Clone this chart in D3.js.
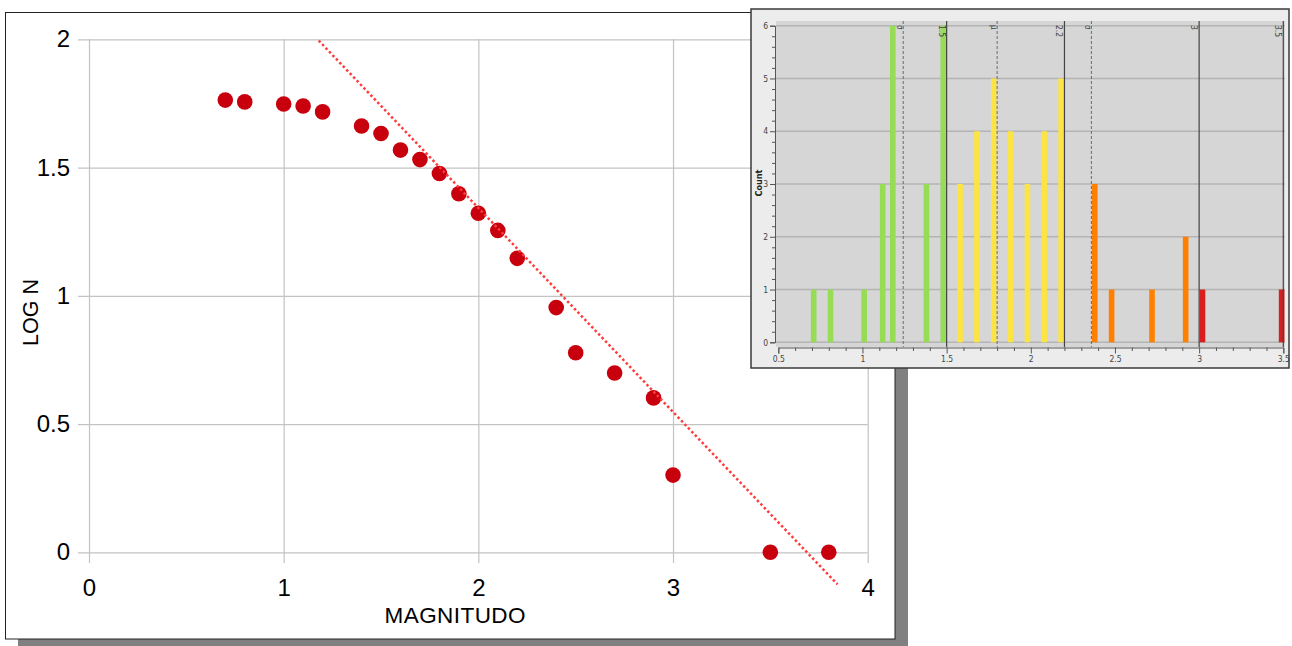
<!DOCTYPE html>
<html lang="it">
<head>
<meta charset="UTF-8">
<title>Gutenberg-Richter</title>
<script src="https://cdnjs.cloudflare.com/ajax/libs/d3/7.8.5/d3.min.js"></script>
<style>
  html, body { margin: 0; padding: 0; background: #fff; }
  svg { display: block; font-family: "Liberation Sans", Arial, sans-serif; }
  .inset text { font-family: "Liberation Sans Narrow", "DejaVu Sans Condensed", sans-serif; fill: #444; }
</style>
</head>
<body>
<div id="chart"></div>
<script>
// main scatter: magnitude vs log N (cumulative)
var magnitude = [0.7, 0.8, 1.0, 1.1, 1.2, 1.4, 1.5, 1.6, 1.7, 1.8, 1.9, 2.0, 2.1, 2.2, 2.4, 2.5, 2.7, 2.9, 3.0, 3.5, 3.8];
var logN = [1.763, 1.756, 1.748, 1.740, 1.717, 1.662, 1.633, 1.568, 1.531, 1.477, 1.398, 1.322, 1.255, 1.146, 0.954, 0.778, 0.699, 0.602, 0.301, 0, 0];
var trendX = [1.18, 3.845];
var trendY = [1.995, -0.125];
var xTicks = [0, 1, 2, 3, 4];
var yTicks = [0, 0.5, 1, 1.5, 2];

// inset histogram
var histMag = [0.71, 0.81, 1.01, 1.12, 1.18, 1.38, 1.48, 1.58, 1.68, 1.78, 1.88, 1.98, 2.08, 2.18, 2.38, 2.48, 2.72, 2.92, 3.02, 3.49];
var histCount = [1, 1, 1, 3, 6, 3, 6, 3, 4, 5, 4, 3, 4, 5, 3, 1, 1, 2, 1, 1];
var classBreaks = [1.5, 2.2, 3, 3.5];
var classLabels = ["1.5", "2.2", "3", "3.5"];
var statValues = [1.242, 1.8, 2.36];
var statLabels = ["σ", "μ", "σ"];
var histXTicks = [0.5, 1, 1.5, 2, 2.5, 3, 3.5];
var histYTicks = [0, 1, 2, 3, 4, 5, 6];

var W = 1292, H = 646;
var svg = d3.select("#chart").append("svg")
    .attr("width", W)
    .attr("height", H);

// ---- main panel ----
svg.append("rect")
    .attr("x", 18).attr("y", 19)
    .attr("width", 890).attr("height", 630)
    .attr("fill", "#808080");
svg.append("rect")
    .attr("x", 5.5).attr("y", 12.5)
    .attr("width", 889.5).attr("height", 626.5)
    .attr("fill", "#fff")
    .attr("stroke", "#222")
    .attr("stroke-width", 1);

var x = d3.scaleLinear().domain([0, 4]).range([89, 867.7]);
var y = d3.scaleLinear().domain([0, 2]).range([552.3, 39.3]);

var gx = svg.append("g")
    .attr("transform", "translate(0,563)")
    .call(d3.axisBottom(x).tickValues(xTicks).tickSize(-(563 - 39.3)).tickPadding(16).tickFormat(d3.format("~g")));
var gy = svg.append("g")
    .attr("transform", "translate(78,0)")
    .call(d3.axisLeft(y).tickValues(yTicks).tickSize(-(867.7 - 78)).tickPadding(8).tickFormat(d3.format("~g")));

[gx, gy].forEach(function(g) {
    g.select(".domain").remove();
    g.selectAll(".tick line").attr("stroke", "#c3c3c3").attr("stroke-width", 1.2);
    g.selectAll(".tick text").attr("fill", "#000").style("font-size", "24px")
        .style("font-family", "'Liberation Sans', Arial, sans-serif");
});

svg.selectAll(".dot")
    .data(magnitude)
    .enter().append("circle")
    .attr("class", "dot")
    .attr("cx", function(d) { return x(d); })
    .attr("cy", function(d, i) { return y(logN[i]); })
    .attr("r", 7.8)
    .attr("fill", "#c8000e");

svg.append("path")
    .datum(trendX.map(function(v, i) { return [v, trendY[i]]; }))
    .attr("fill", "none")
    .attr("stroke", "#ff3b3b")
    .attr("stroke-width", 2.5)
    .attr("stroke-dasharray", "2.5,2.5")
    .attr("d", d3.line().x(function(d) { return x(d[0]); }).y(function(d) { return y(d[1]); }));

svg.append("text")
    .attr("x", 455).attr("y", 623)
    .attr("text-anchor", "middle")
    .style("font-size", "22.5px")
    .attr("textLength", 141)
    .text("MAGNITUDO");

svg.append("text")
    .attr("transform", "translate(38,312.5) rotate(-90)")
    .attr("text-anchor", "middle")
    .style("font-size", "21.5px")
    .text("LOG N");

// ---- inset histogram ----
var inset = svg.append("g").attr("class", "inset");

inset.append("rect")
    .attr("x", 751).attr("y", 9)
    .attr("width", 538).attr("height", 359)
    .attr("fill", "#ececec")
    .attr("stroke", "#3a3a3a")
    .attr("stroke-width", 1.5);
inset.append("rect")
    .attr("x", 776).attr("y", 21)
    .attr("width", 509).attr("height", 326)
    .attr("fill", "#d6d6d6");

var hx = d3.scaleLinear().domain([0.5, 3.5]).range([778.3, 1283.3]);
var hy = d3.scaleLinear().domain([0, 6]).range([342.3, 25.7]);
var colorClass = d3.scaleThreshold()
    .domain([1.5, 2.2, 3])
    .range(["#96dc55", "#fbe444", "#ff8000", "#d81e1e"]);

inset.selectAll(".hgrid")
    .data(histYTicks)
    .enter().append("line")
    .attr("class", "hgrid")
    .attr("x1", 776).attr("x2", 1285)
    .attr("y1", function(d) { return hy(d); })
    .attr("y2", function(d) { return hy(d); })
    .attr("stroke", "#b4b4b4")
    .attr("stroke-width", 1.6);

inset.selectAll(".bar")
    .data(histMag)
    .enter().append("rect")
    .attr("class", "bar")
    .attr("x", function(d) { return hx(d) - 2.8; })
    .attr("width", 5.6)
    .attr("y", function(d, i) { return hy(histCount[i]); })
    .attr("height", function(d, i) { return hy(0) - hy(histCount[i]); })
    .attr("fill", function(d) { return colorClass(d); });

inset.selectAll(".stat")
    .data(statValues)
    .enter().append("line")
    .attr("class", "stat")
    .attr("x1", function(d) { return hx(d); })
    .attr("x2", function(d) { return hx(d); })
    .attr("y1", 21).attr("y2", 347)
    .attr("stroke", "#6a6a6a")
    .attr("stroke-width", 1)
    .attr("stroke-dasharray", "3,2");

inset.selectAll(".brk")
    .data(classBreaks)
    .enter().append("line")
    .attr("class", "brk")
    .attr("x1", function(d) { return hx(d); })
    .attr("x2", function(d) { return hx(d); })
    .attr("y1", 21).attr("y2", 347)
    .attr("stroke", "#444")
    .attr("stroke-width", 1.2);

inset.selectAll(".statlbl")
    .data(statValues)
    .enter().append("text")
    .attr("transform", function(d) { return "translate(" + (hx(d) - 6) + ",25) rotate(90)"; })
    .style("font-size", "8px")
    .text(function(d, i) { return statLabels[i]; });

inset.selectAll(".brklbl")
    .data(classBreaks)
    .enter().append("text")
    .attr("transform", function(d) { return "translate(" + (hx(d) - 8) + ",25) rotate(90)"; })
    .style("font-size", "8.5px")
    .text(function(d, i) { return classLabels[i]; });

// inset axes
var hAxisX = inset.append("g")
    .attr("transform", "translate(0,347.5)")
    .call(d3.axisBottom(hx).tickValues(histXTicks).tickSize(6).tickPadding(2).tickFormat(d3.format("~g")));
inset.append("g")
    .attr("transform", "translate(0,347.5)")
    .call(d3.axisBottom(hx).tickValues(d3.range(6, 35).map(function(v) { return v / 10; }).filter(function(v) { return Math.round(v * 10) % 5 !== 0; }))
        .tickSize(3.5).tickFormat(""))
    .select(".domain").remove();

var hAxisY = inset.append("g")
    .attr("transform", "translate(775,0)")
    .call(d3.axisLeft(hy).tickValues(histYTicks).tickSize(5).tickPadding(2).tickFormat(d3.format("d")));
inset.append("g")
    .attr("transform", "translate(775,0)")
    .call(d3.axisLeft(hy).tickValues(d3.range(0, 31).map(function(v) { return v / 5; }).filter(function(v, i) { return i % 5 !== 0; }))
        .tickSize(3).tickFormat(""))
    .select(".domain").remove();

inset.selectAll(".domain, .tick line").attr("stroke", "#555");
[hAxisX, hAxisY].forEach(function(g) {
    g.selectAll(".tick text").style("font-size", "8.5px").attr("fill", "#444");
});

inset.append("text")
    .attr("transform", "translate(762,183) rotate(-90)")
    .attr("text-anchor", "middle")
    .style("font-size", "9px")
    .style("font-weight", "bold")
    .style("fill", "#222")
    .text("Count");
</script>
</body>
</html>
